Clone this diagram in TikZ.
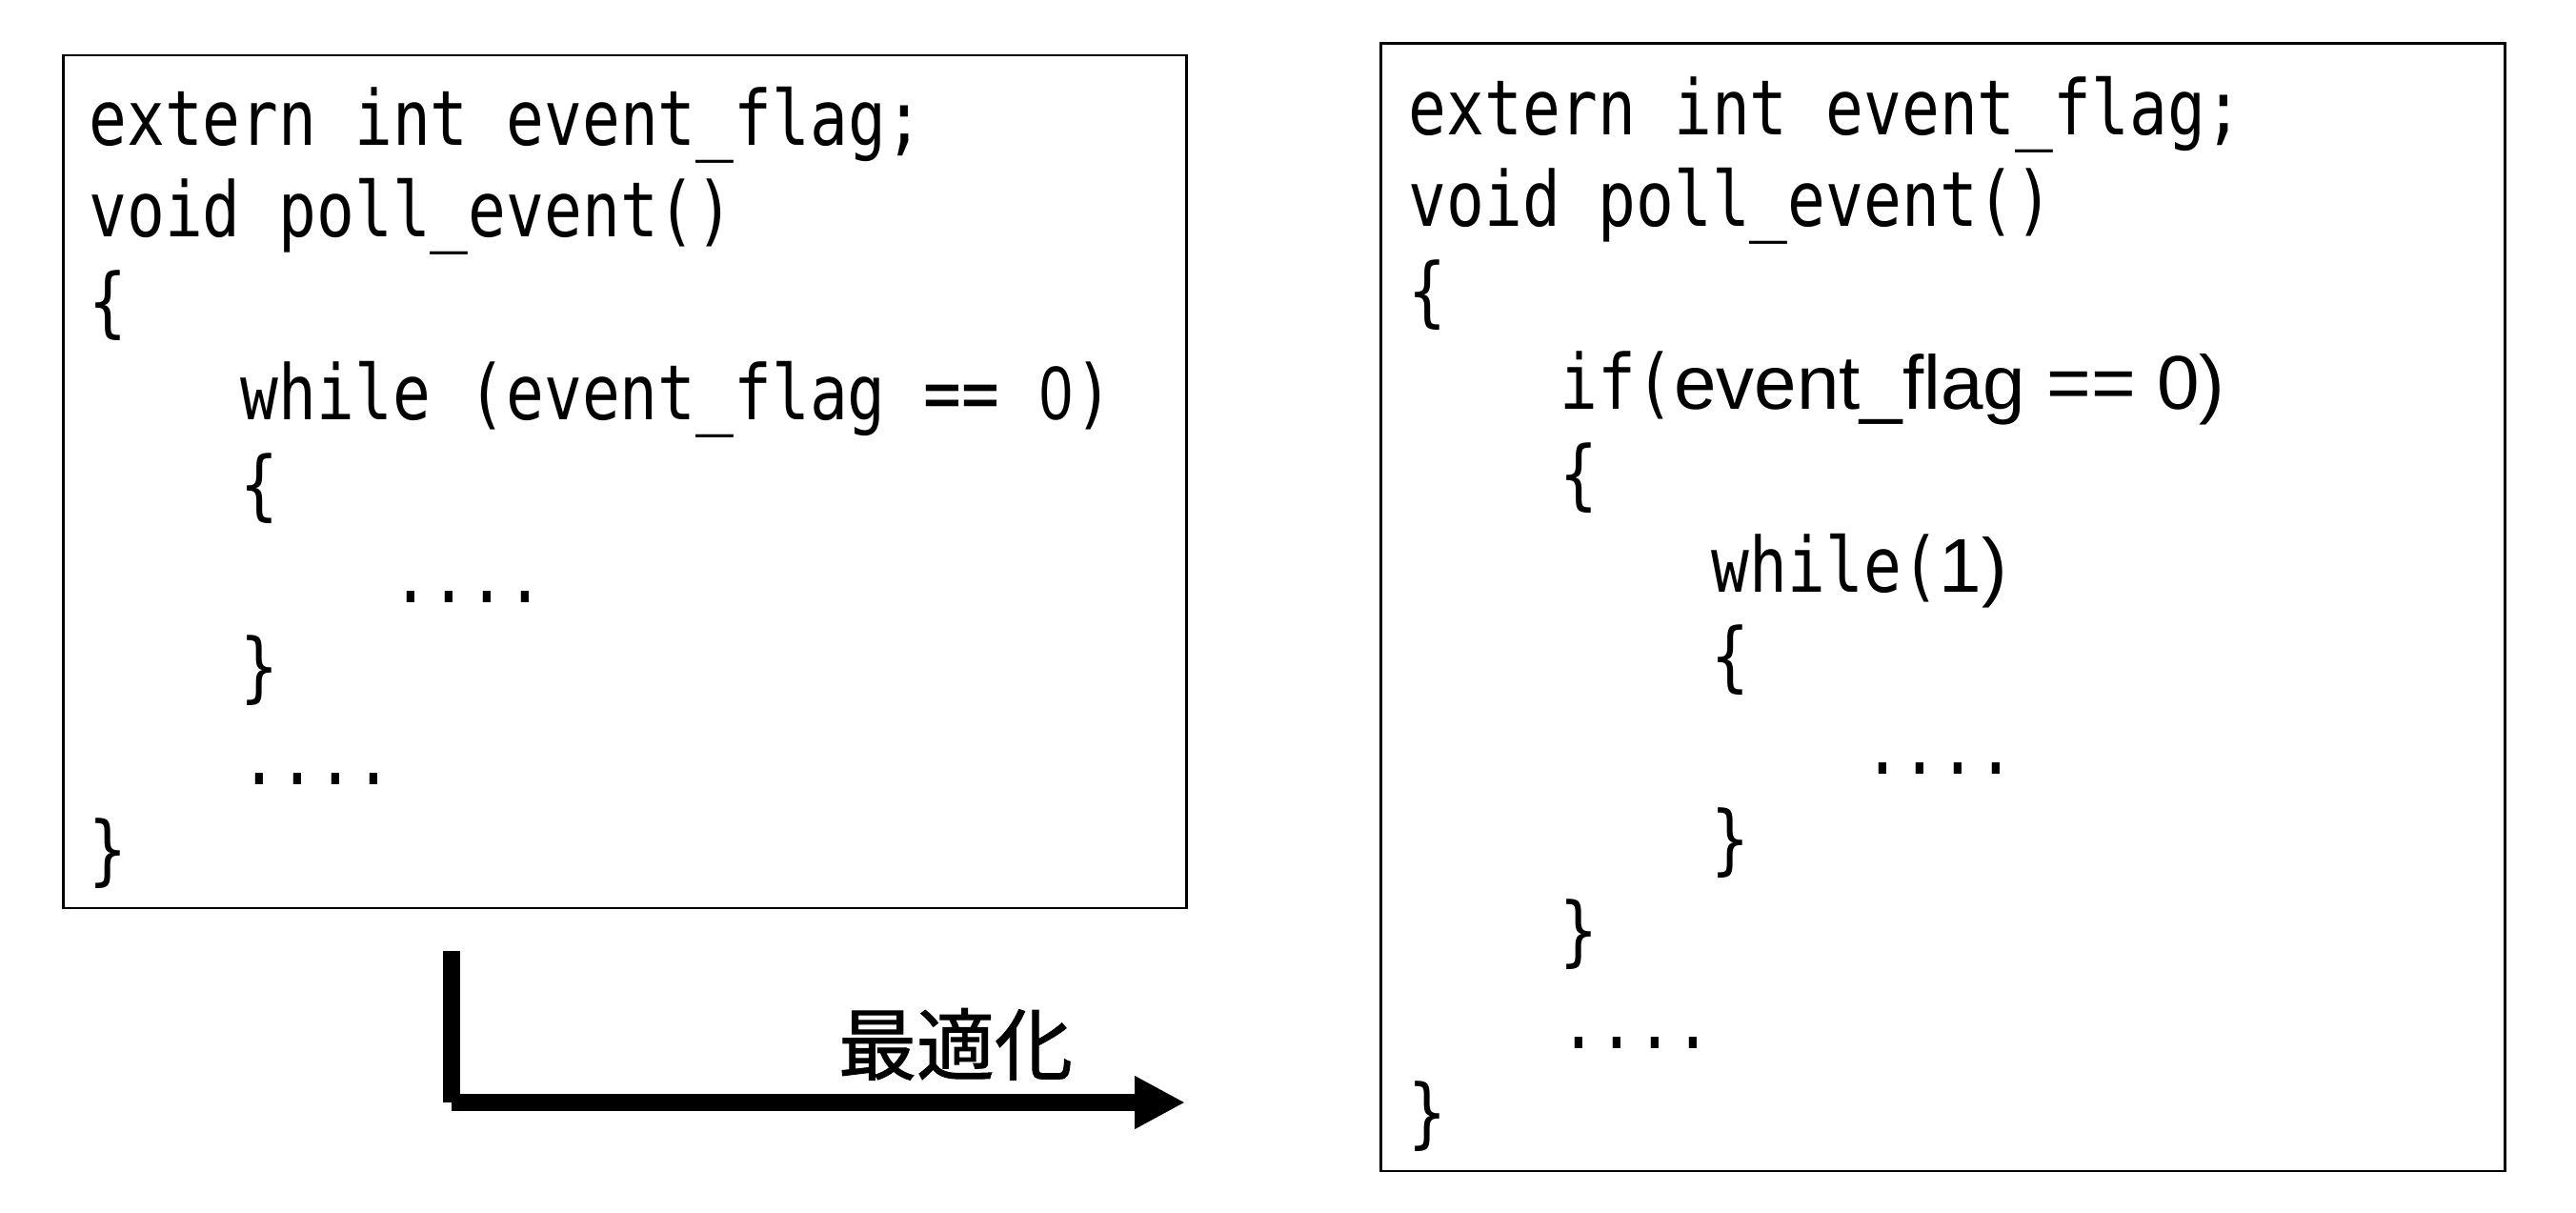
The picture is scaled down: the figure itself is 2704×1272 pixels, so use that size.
\documentclass[tikz,border=0pt]{standalone}
\usepackage{fontspec}
\usetikzlibrary{arrows.meta}
\newfontfamily\codefont[FakeStretch=0.827]{DejaVu Sans Mono}
\newfontfamily\propfont{Liberation Sans}
\newfontfamily\zerofont[FakeStretch=0.78]{Liberation Sans}
\newfontfamily\jpfont[FakeBold=1.2]{Noto Sans CJK JP}
\newcommand{\zr}{\makebox[9.95pt][c]{\zerofont 0}}
\tikzset{
  codebox/.style={draw, line width=0.7pt, anchor=north west, inner sep=0pt, outer sep=0pt},
  codeline/.style={anchor=base west, inner sep=0pt, outer sep=0pt, font=\codefont\fontsize{20pt}{24pt}\selectfont},
  shaft/.style={line width=4.5pt, line cap=butt},
  optlabel/.style={anchor=base, inner sep=0pt, font=\jpfont\fontsize{20.5pt}{24pt}\selectfont}
}
\begin{document}
\begin{tikzpicture}[x=0.25pt,y=-0.25pt]
\useasboundingbox (0,0) rectangle (2704,1272);
\fill[white] (0,0) rectangle (2704,1272);
% boxes
\node[codebox, minimum width=294.75pt, minimum height=223.75pt] (leftbox) at (66.5,58) {};
\node[codebox, minimum width=295pt, minimum height=295.875pt] (rightbox) at (1449.5,45.5) {};
% left code
\node[codeline] (l0) at (93.5,153)   {extern int event\_flag;};
\node[codeline] (l1) at (93.5,248.8) {void poll\_event()};
\node[codeline] (l2) at (93.5,344.6) {\{};
\node[codeline] (l3) at (252.7,440.4) {while (event\_flag == \zr)};
\node[codeline] (l4) at (252.7,536.2) {\{};
\node[codeline] (l5) at (411.9,632)   {....};
\node[codeline] (l6) at (252.7,727.8) {\}};
\node[codeline] (l7) at (252.7,823.6) {....};
\node[codeline] (l8) at (93.5,919.4)  {\}};
% right code
\node[codeline] (r0) at (1478.5,142)    {extern int event\_flag;};
\node[codeline] (r1) at (1478.5,237.8)  {void poll\_event()};
\node[codeline] (r2) at (1478.5,333.6)  {\{};
\node[codeline] (r3) at (1637.7,429.4)  {if(\propfont event\_flag == 0)};
\node[codeline] (r4) at (1637.7,525.2)  {\{};
\node[codeline] (r5) at (1796.9,621)    {while(\propfont 1)};
\node[codeline] (r6) at (1796.9,716.8)  {\{};
\node[codeline] (r7) at (1956.1,812.6)  {....};
\node[codeline] (r8) at (1796.9,908.4)  {\}};
\node[codeline] (r9) at (1637.7,1004.2) {\}};
\node[codeline] (r10) at (1637.7,1100) {....};
\node[codeline] (r11) at (1478.5,1195.8) {\}};
% arrow
\coordinate (bendtop) at (474,998);
\coordinate (bend) at (474,1157);
\coordinate (tip) at (1244,1157);
\draw[shaft] (bendtop) -- (bend);
\draw[shaft, -{Triangle[length=13.25pt,width=13pt]}] (bend) -- (tip);
\node[optlabel] (opt) at (1003,1127) {最適化};
\end{tikzpicture}
\end{document}
